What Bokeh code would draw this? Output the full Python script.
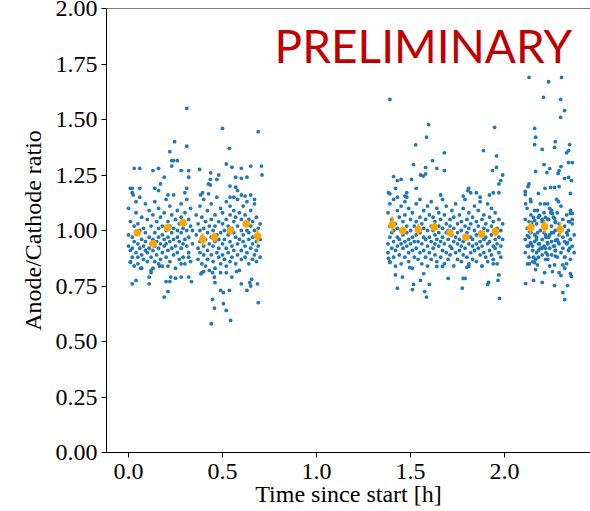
from bokeh.plotting import figure
from bokeh.models import FixedTicker, PrintfTickFormatter, Label, Span
from bokeh.embed import file_html
from bokeh.resources import INLINE

# ---------------- data ----------------
block1_core = {
    0.00: [0.93, 1.10, 0.98], 0.01: [0.86, 1.04, 0.91], 0.02: [0.97, 1.19, 0.92, 0.88],
    0.03: [1.02, 0.95, 0.84], 0.04: [1.08, 0.90, 0.99, 1.13], 0.05: [0.94, 1.03, 0.88],
    0.06: [1.00, 0.92, 1.15], 0.07: [0.96, 0.89, 1.06, 0.83], 0.08: [1.01, 0.93, 0.87],
    0.09: [1.12, 0.95, 0.91, 0.99], 0.10: [0.90, 1.05, 0.86], 0.11: [0.97, 0.92, 1.09],
    0.12: [0.94, 1.02, 0.88, 0.82], 0.13: [1.07, 0.91, 0.96], 0.14: [0.99, 0.86, 1.13, 0.93],
    0.15: [0.89, 1.04, 0.95], 0.16: [1.01, 0.92, 0.97, 1.10], 0.17: [0.87, 1.06, 0.94],
    0.18: [0.98, 0.90, 1.02, 0.84], 0.19: [1.08, 0.93, 0.96], 0.20: [1.00, 0.88, 1.14, 0.94],
    0.21: [0.91, 1.04, 0.97], 0.22: [1.11, 0.95, 0.86, 1.02], 0.23: [0.99, 1.07, 0.92],
    0.24: [0.89, 1.01, 1.16, 0.96], 0.25: [1.05, 0.93, 0.83], 0.26: [0.97, 1.09, 0.90, 1.00],
    0.27: [1.03, 0.87, 0.95], 0.28: [0.92, 1.12, 0.99, 1.06], 0.29: [0.88, 1.01, 0.94],
    0.30: [1.08, 0.96, 0.85, 1.03], 0.31: [0.93, 1.00, 1.14], 0.32: [0.97, 0.90, 1.05],
    0.33: [1.02, 0.86, 1.10], 0.34: [0.94, 1.00], 0.36: [0.98, 1.07],
    0.37: [0.92, 1.03, 0.87], 0.38: [1.00, 0.95, 1.11, 0.90], 0.39: [0.85, 1.06, 0.97],
    0.40: [0.93, 1.01, 0.89, 1.14], 0.41: [1.04, 0.96, 0.84], 0.42: [0.91, 1.09, 0.99, 0.87],
    0.43: [1.02, 0.94, 0.82], 0.44: [0.97, 1.12, 0.89, 1.05], 0.45: [0.86, 1.00, 0.93],
    0.46: [1.07, 0.95, 0.83, 1.02], 0.47: [0.90, 0.98, 1.15], 0.48: [1.04, 0.88, 0.96, 0.92],
    0.49: [0.99, 1.10, 0.85], 0.50: [0.94, 1.03, 0.89, 1.08], 0.51: [0.87, 1.00, 0.96],
    0.52: [1.13, 0.92, 1.05, 0.84], 0.53: [0.98, 0.90, 1.02], 0.54: [1.07, 0.95, 0.86, 1.11],
    0.55: [0.93, 1.01, 0.88], 0.56: [0.99, 1.09, 0.91, 1.04], 0.57: [0.85, 0.97, 1.06],
    0.58: [1.02, 0.94, 1.14, 0.89], 0.59: [0.96, 1.08, 0.82], 0.60: [0.91, 1.00, 1.05, 0.87],
    0.61: [1.11, 0.95, 0.98], 0.62: [0.88, 1.03, 0.93, 1.07], 0.63: [1.00, 0.90, 1.13],
    0.64: [0.96, 1.05, 0.85, 0.99], 0.65: [0.92, 1.09, 1.02], 0.66: [1.04, 0.87, 0.97, 0.94],
    0.67: [0.89, 1.00, 1.12], 0.68: [0.95, 1.06, 0.91, 0.86], 0.69: [1.01, 0.93, 0.98],
    0.70: [0.88, 1.03, 0.96],
}
block1_sparse = [
    (0.31, 1.55), (0.245, 1.40), (0.31, 1.38), (0.22, 1.355), (0.23, 1.315), (0.24, 1.315),
    (0.26, 1.315), (0.23, 1.29), (0.03, 1.28), (0.06, 1.28), (0.13, 1.27), (0.16, 1.28),
    (0.28, 1.27), (0.32, 1.27), (0.19, 1.24), (0.32, 1.24), (0.17, 1.21), (0.14, 1.19),
    (0.01, 1.19), (0.06, 1.19), (0.31, 1.19), (0.02, 1.17), (0.025, 1.16), (0.16, 1.18),
    (0.21, 1.16), (0.30, 1.17),
    (0.50, 1.46), (0.69, 1.445), (0.537, 1.37), (0.378, 1.275), (0.52, 1.30), (0.55, 1.285),
    (0.60, 1.28), (0.65, 1.29), (0.707, 1.29), (0.435, 1.23), (0.437, 1.26), (0.48, 1.25),
    (0.47, 1.23), (0.57, 1.24), (0.60, 1.235), (0.63, 1.24), (0.71, 1.25), (0.425, 1.21),
    (0.435, 1.205), (0.54, 1.20), (0.57, 1.195), (0.58, 1.18), (0.394, 1.17), (0.426, 1.165),
    (0.383, 1.16), (0.54, 1.15), (0.56, 1.15), (0.60, 1.16), (0.62, 1.155), (0.65, 1.16),
    (0.67, 1.14),
    (0.01, 0.856), (0.04, 0.775), (0.02, 0.76), (0.11, 0.76), (0.19, 0.70), (0.21, 0.725),
    (0.20, 0.77), (0.22, 0.77), (0.225, 0.79), (0.25, 0.785), (0.28, 0.79), (0.32, 0.79),
    (0.335, 0.77), (0.11, 0.79), (0.12, 0.81), (0.13, 0.83), (0.065, 0.83), (0.05, 0.85),
    (0.16, 0.85), (0.165, 0.84), (0.21, 0.84), (0.28, 0.85), (0.32, 0.88),
    (0.385, 0.805), (0.39, 0.81), (0.40, 0.815), (0.447, 0.81), (0.457, 0.79), (0.46, 0.765),
    (0.49, 0.81), (0.52, 0.81), (0.575, 0.815), (0.55, 0.79), (0.49, 0.73), (0.505, 0.72),
    (0.537, 0.73), (0.447, 0.69), (0.505, 0.67), (0.52, 0.64), (0.457, 0.65), (0.543, 0.595),
    (0.44, 0.58), (0.60, 0.76), (0.63, 0.73), (0.65, 0.75), (0.645, 0.765), (0.655, 0.78),
    (0.686, 0.76), (0.69, 0.675),
]

block2_core = {
    1.38: [0.94, 1.08, 0.90], 1.39: [1.02, 0.86, 0.97, 1.12], 1.40: [0.92, 1.05, 0.99],
    1.41: [0.88, 1.00, 1.14, 0.95], 1.42: [1.03, 0.91, 0.84], 1.43: [0.97, 1.09, 0.93, 1.01],
    1.44: [0.89, 1.06, 0.96], 1.45: [1.00, 0.85, 1.11, 0.94], 1.46: [0.92, 1.04, 0.98],
    1.47: [1.07, 0.88, 0.95, 1.13], 1.48: [0.99, 0.93, 1.02], 1.49: [0.86, 1.10, 0.96, 0.90],
    1.50: [1.05, 0.94, 1.00], 1.51: [0.91, 0.83, 1.08, 0.97], 1.52: [1.02, 0.95, 0.88],
    1.53: [0.98, 1.12, 0.92, 1.04], 1.54: [0.87, 1.00, 0.95], 1.55: [1.06, 0.90, 0.99, 1.14],
    1.56: [0.94, 1.03, 0.85], 1.57: [1.09, 0.97, 0.91, 1.01], 1.58: [0.88, 1.05, 0.96],
    1.59: [1.00, 0.93, 1.11, 0.84], 1.60: [0.97, 1.07, 0.90], 1.61: [1.02, 0.87, 0.95, 1.13],
    1.62: [0.92, 1.00, 1.06], 1.63: [0.98, 0.89, 1.04, 0.94], 1.64: [1.10, 0.96, 0.86],
    1.65: [0.93, 1.02, 0.99, 1.08], 1.66: [0.88, 0.95, 1.05], 1.67: [1.01, 0.91, 1.14, 0.97],
    1.68: [0.94, 1.07, 0.85], 1.69: [0.99, 0.90, 1.03, 1.11], 1.70: [0.87, 1.00, 0.96],
    1.71: [1.05, 0.93, 0.89, 1.02], 1.72: [0.98, 1.09, 0.92], 1.73: [0.84, 1.01, 0.95, 1.06],
    1.74: [0.97, 0.90, 1.12], 1.75: [1.03, 0.94, 0.87, 0.99], 1.76: [0.91, 1.07, 0.96],
    1.77: [1.00, 0.86, 1.04, 0.93], 1.78: [0.95, 1.10, 0.89], 1.79: [1.02, 0.97, 0.92, 1.14],
    1.80: [0.88, 1.05, 0.99], 1.81: [0.94, 1.01, 0.85, 1.08], 1.82: [0.97, 0.90, 1.03],
    1.83: [1.06, 0.93, 0.96, 0.87], 1.84: [0.91, 1.11, 1.00], 1.85: [0.98, 0.86, 1.04, 0.94],
    1.86: [1.02, 0.92, 1.09], 1.87: [0.89, 0.99, 0.95, 1.13], 1.88: [1.05, 0.93, 0.84],
    1.89: [0.96, 1.01, 0.90, 1.07], 1.90: [0.88, 1.03, 0.97], 1.91: [1.00, 0.94, 1.12, 0.86],
    1.92: [0.95, 1.06, 0.91], 1.93: [1.02, 0.89, 0.98, 1.10], 1.94: [0.93, 1.04, 0.87],
    1.95: [0.99, 0.92, 1.08, 0.96], 1.96: [0.85, 1.01, 0.94], 1.97: [1.05, 0.97, 0.90],
    1.98: [0.93, 1.00, 0.88], 1.99: [0.96, 1.03],
}
block2_sparse = [
    (1.39, 1.59), (1.596, 1.477), (1.585, 1.42), (1.527, 1.386), (1.947, 1.465), (1.68, 1.35),
    (1.888, 1.36), (1.617, 1.315), (1.957, 1.336), (1.516, 1.297), (1.58, 1.284), (1.64, 1.28),
    (1.68, 1.27), (1.936, 1.27), (1.957, 1.284), (1.99, 1.25), (1.98, 1.225), (1.97, 1.21),
    (1.41, 1.243), (1.43, 1.225), (1.45, 1.23), (1.505, 1.23), (1.553, 1.25), (1.567, 1.245),
    (1.58, 1.255), (1.42, 1.19), (1.53, 1.19), (1.383, 1.17), (1.39, 1.165), (1.48, 1.17),
    (1.81, 1.19), (1.805, 1.18), (1.82, 1.17), (1.85, 1.17), (1.94, 1.17), (1.97, 1.17),
    (1.66, 1.16), (1.78, 1.155), (1.87, 1.15), (1.92, 1.16), (1.43, 1.15), (1.47, 1.155),
    (1.48, 1.15),
    (1.383, 0.874), (1.39, 0.856), (1.42, 0.80), (1.43, 0.74), (1.457, 0.79), (1.516, 0.757),
    (1.51, 0.734), (1.575, 0.725), (1.585, 0.70), (1.553, 0.775), (1.60, 0.757), (1.495, 0.833),
    (1.57, 0.806), (1.64, 0.838), (1.67, 0.838), (1.70, 0.784), (1.78, 0.784), (1.79, 0.784),
    (1.775, 0.74), (1.81, 0.838), (1.80, 0.835), (1.91, 0.757), (1.915, 0.766), (1.97, 0.80),
    (1.965, 0.775), (1.973, 0.694), (1.88, 0.84), (1.94, 0.85),
]

block3_core = {
    2.11: [0.96, 1.05, 0.90], 2.12: [1.01, 0.93, 1.10], 2.13: [0.97, 0.88, 1.04],
    2.14: [1.07, 0.94, 0.99], 2.15: [0.91, 1.02, 0.86], 2.16: [0.98, 1.09, 0.95],
    2.17: [1.03, 0.90, 0.97], 2.18: [0.94, 1.06, 0.88], 2.19: [1.00, 0.92, 1.12],
    2.20: [0.96, 1.04, 0.89], 2.21: [1.08, 0.99, 0.93], 2.22: [0.90, 1.01, 0.97],
    2.23: [1.05, 0.94, 0.87], 2.24: [0.98, 1.10, 0.92], 2.25: [1.02, 0.95, 0.89],
    2.26: [0.93, 1.06, 0.99], 2.27: [1.00, 0.91, 1.04], 2.28: [0.96, 1.08, 0.88],
    2.29: [1.03, 0.94, 0.98], 2.30: [0.90, 1.01, 1.11], 2.31: [0.97, 1.05, 0.92],
    2.32: [1.02, 0.88, 0.95], 2.33: [0.94, 1.07, 0.99], 2.34: [1.00, 0.91, 1.04],
    2.35: [0.96, 1.09, 0.87], 2.36: [1.03, 0.93], 2.37: [0.98, 0.90],
}
block3_sparse = [
    (2.13, 1.69), (2.234, 1.67), (2.303, 1.69), (2.207, 1.60), (2.298, 1.59), (2.319, 1.54),
    (2.298, 1.51), (2.16, 1.46), (2.165, 1.42), (2.16, 1.387), (2.27, 1.40), (2.266, 1.374),
    (2.20, 1.365), (2.346, 1.387), (2.33, 1.35), (2.34, 1.36), (2.36, 1.306), (2.34, 1.306),
    (2.21, 1.297), (2.30, 1.288), (2.29, 1.27), (2.285, 1.257), (2.24, 1.279), (2.225, 1.261),
    (2.165, 1.266), (2.319, 1.234), (2.34, 1.239), (2.355, 1.225), (2.13, 1.21), (2.125, 1.198),
    (2.11, 1.176), (2.11, 1.162), (2.215, 1.19), (2.245, 1.194), (2.266, 1.194), (2.29, 1.198),
    (2.18, 1.167), (2.35, 1.167), (2.138, 1.14), (2.14, 1.13), (2.277, 1.14), (2.287, 1.13),
    (2.213, 1.12), (2.229, 1.12), (2.112, 1.12), (2.25, 1.09), (2.245, 1.08), (2.255, 1.077),
    (2.175, 1.09), (2.36, 1.077), (2.35, 1.077), (2.154, 1.059), (2.16, 1.045), (2.144, 1.036),
    (2.186, 1.068), (2.20, 1.05), (2.218, 1.059), (2.234, 1.05), (2.266, 1.054), (2.27, 1.036),
    (2.346, 1.04), (2.36, 1.05),
    (2.133, 0.995), (2.122, 0.977), (2.175, 0.99), (2.17, 0.96), (2.218, 0.98), (2.234, 0.97),
    (2.25, 0.99), (2.27, 0.955), (2.287, 0.946), (2.335, 0.98), (2.35, 0.96), (2.138, 0.945),
    (2.149, 0.93), (2.128, 0.93), (2.186, 0.94), (2.20, 0.92), (2.18, 0.91), (2.229, 0.945),
    (2.218, 0.92), (2.266, 0.93), (2.27, 0.91), (2.335, 0.945), (2.346, 0.92), (2.154, 0.88),
    (2.165, 0.87), (2.16, 0.855), (2.229, 0.89), (2.218, 0.87), (2.27, 0.885), (2.32, 0.88),
    (2.122, 0.85), (2.133, 0.85), (2.175, 0.845), (2.24, 0.84), (2.266, 0.845), (2.31, 0.845),
    (2.33, 0.85), (2.32, 0.83), (2.165, 0.824), (2.213, 0.81), (2.255, 0.815), (2.29, 0.81),
    (2.30, 0.797), (2.35, 0.806), (2.355, 0.793), (2.112, 0.761), (2.154, 0.775), (2.20, 0.766),
    (2.266, 0.752), (2.335, 0.752), (2.31, 0.72), (2.32, 0.689),
]

bin_time = [0.046, 0.131, 0.207, 0.289, 0.395, 0.457, 0.541, 0.626, 0.686,
            1.403, 1.459, 1.541, 1.626, 1.709, 1.794, 1.878, 1.951,
            2.138, 2.213, 2.296]
bin_ratio = [0.990, 0.940, 1.012, 1.036, 0.959, 0.968, 1.000, 1.030, 0.974,
             1.027, 1.000, 1.005, 1.015, 0.990, 0.970, 0.985, 0.995,
             1.012, 1.018, 1.006]
bin_err = [0.015, 0.015, 0.015, 0.018, 0.027, 0.022, 0.020, 0.015, 0.032,
           0.036, 0.018, 0.025, 0.022, 0.015, 0.015, 0.018, 0.022,
           0.028, 0.030, 0.032]

y_ticks = [0.0, 0.25, 0.5, 0.75, 1.0, 1.25, 1.5, 1.75, 2.0]
x_ticks = [0.0, 0.5, 1.0, 1.5, 2.0]

# ---------------- assemble ----------------
t_all, r_all = [], []
for core, sparse in ((block1_core, block1_sparse), (block2_core, block2_sparse),
                     (block3_core, block3_sparse)):
    for t, rs in core.items():
        for r in rs:
            t_all.append(t)
            r_all.append(r)
    for t, r in sparse:
        t_all.append(t)
        r_all.append(r)

SERIF = "Liberation Serif"
FS = "24px"

p = figure(width=590, height=511, output_backend="svg", toolbar_location=None,
           x_range=(-0.117, 2.457), y_range=(0.0, 2.0),
           min_border_left=106, min_border_right=0, min_border_top=8, min_border_bottom=59,
           background_fill_color="white", border_fill_color="white",
           outline_line_color=None,
           x_axis_label="Time since start [h]", y_axis_label="Anode/Cathode ratio")
p.grid.visible = False

for ax in (p.xaxis[0], p.yaxis[0]):
    ax.axis_line_color = "black"
    ax.axis_line_width = 1
    ax.major_tick_line_color = "black"
    ax.major_tick_in = 0
    ax.major_tick_out = 5
    ax.minor_tick_line_color = None
    ax.major_label_text_font = SERIF
    ax.major_label_text_font_size = FS
    ax.major_label_text_color = "black"
    ax.axis_label_text_font = SERIF
    ax.axis_label_text_font_size = FS
    ax.axis_label_text_font_style = "normal"
    ax.axis_label_text_color = "black"

p.yaxis[0].ticker = FixedTicker(ticks=y_ticks)
p.yaxis[0].formatter = PrintfTickFormatter(format="%.2f")
p.yaxis[0].major_label_standoff = 4
p.yaxis[0].axis_label_standoff = 7
p.xaxis[0].ticker = FixedTicker(ticks=x_ticks)
p.xaxis[0].formatter = PrintfTickFormatter(format="%.1f")
p.xaxis[0].major_label_standoff = 6
p.xaxis[0].axis_label_standoff = -1

p.add_layout(Span(location=2.0, dimension="width", line_color="black", line_width=1))

p.scatter(t_all, r_all, size=3.8, color="#1f77b4", line_color=None)

lo = [r - e for r, e in zip(bin_ratio, bin_err)]
hi = [r + e for r, e in zip(bin_ratio, bin_err)]
p.segment(x0=bin_time, y0=lo, x1=bin_time, y1=hi, line_color="orange", line_width=2)
p.scatter(bin_time, bin_ratio, size=7.5, color="orange", line_color=None)

p.add_layout(Label(x=0.777, y=1.835, text="PRELIMINARY", text_font="Lato",
                   text_font_size="46px", text_color="#c00000", text_align="left",
                   text_baseline="middle"))

open("out.html", "w").write(file_html(p, INLINE))
